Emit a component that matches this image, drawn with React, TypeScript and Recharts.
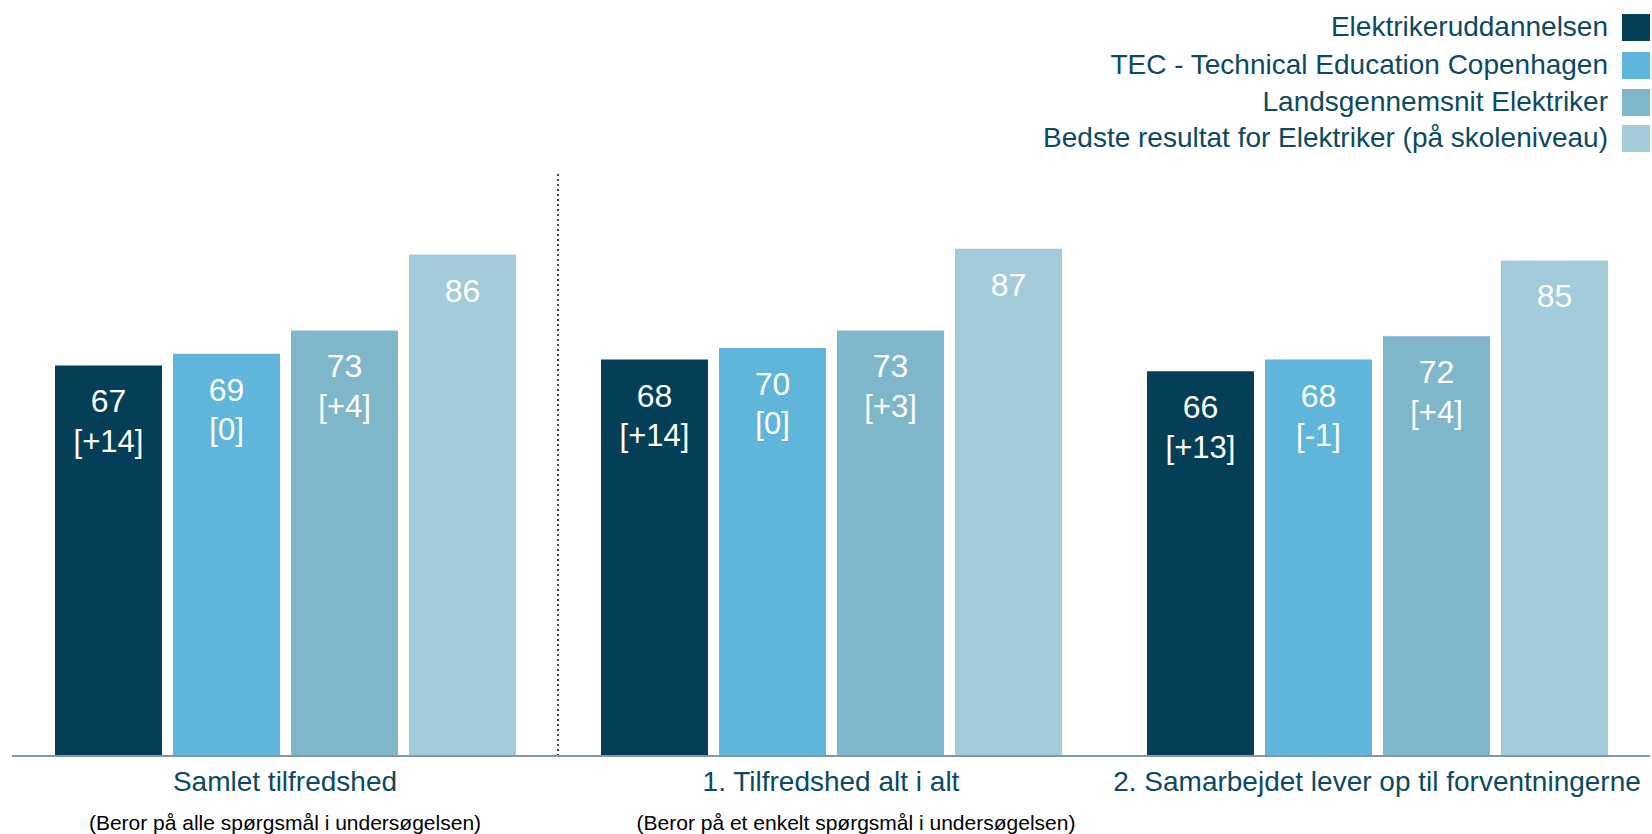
import { BarChart, Bar, XAxis, YAxis, LabelList, ReferenceLine } from "recharts";

const categories = [
  "Samlet tilfredshed",
  "1. Tilfredshed alt i alt",
  "2. Samarbejdet lever op til forventningerne",
];
const subtitles = [
  "(Beror på alle spørgsmål i undersøgelsen)",
  "(Beror på et enkelt spørgsmål i undersøgelsen)",
  "",
];

const seriesNames = [
  "Elektrikeruddannelsen",
  "TEC - Technical Education Copenhagen",
  "Landsgennemsnit Elektriker",
  "Bedste resultat for Elektriker (på skoleniveau)",
];

const elektriker = [67, 68, 66];
const elektrikerDiff = ["+14", "+14", "+13"];
const tec = [69, 70, 68];
const tecDiff = ["0", "0", "-1"];
const lands = [73, 73, 72];
const landsDiff = ["+4", "+3", "+4"];
const best = [86, 87, 85];

const COLORS = ["#043f57", "#5fb5da", "#7fb6ca", "#a3cbda"];
const TEXT = "#0b4a60";
const FONT = "'Liberation Sans', Arial, sans-serif";

const data = categories.map((name, i) => ({
  name,
  elektriker: elektriker[i],
  tec: tec[i],
  lands: lands[i],
  best: best[i],
}));

const makeLabel = (diffs: string[] | null) => (props: any) => {
  const { x, y, width, value, index } = props;
  const cx = x + width / 2;
  return (
    <g>
      <text x={cx} y={y + 36} fill="#fff" fontSize={32} fontFamily={FONT} textAnchor="middle" dominantBaseline="central">
        {value}
      </text>
      {diffs && (
        <text x={cx} y={y + 76} fill="#fff" fontSize={31} fontFamily={FONT} textAnchor="middle" dominantBaseline="central">
          [{diffs[index]}]
        </text>
      )}
    </g>
  );
};

const SUB_DX = [0, 25, 0];

const CategoryTick = (props: any) => {
  const { x, payload } = props;
  const i = payload.index;
  return (
    <g>
      <text x={x} y={781} fill={TEXT} fontSize={28} fontFamily={FONT} textAnchor="middle" dominantBaseline="central">
        {payload.value}
      </text>
      {subtitles[i] && (
        <text x={x + SUB_DX[i]} y={822} fill="#000" fontSize={21} fontFamily={FONT} textAnchor="middle" dominantBaseline="central">
          {subtitles[i]}
        </text>
      )}
    </g>
  );
};

const legendRows = [27, 65, 102, 138];

export default function App() {
  return (
    <div style={{ position: "absolute", left: 0, top: 0, width: 1652, height: 834, background: "#fff" }}>
      <BarChart
        width={1652}
        height={834}
        data={data}
        margin={{ top: 173, right: 2, bottom: 48, left: 12 }}
        barCategoryGap={43}
        barGap={11}
      >
        <YAxis hide domain={[0, 100]} />
        <XAxis
          dataKey="name"
          axisLine={{ stroke: "#8097a9", strokeWidth: 2 }}
          tickLine={false}
          tick={<CategoryTick />}
          interval={0}
        />
        <ReferenceLine x={categories[1]} position="start" stroke="#000" strokeDasharray="2 3" strokeWidth={1.5} />
        <Bar dataKey="elektriker" fill={COLORS[0]} isAnimationActive={false}>
          <LabelList dataKey="elektriker" content={makeLabel(elektrikerDiff)} />
        </Bar>
        <Bar dataKey="tec" fill={COLORS[1]} isAnimationActive={false}>
          <LabelList dataKey="tec" content={makeLabel(tecDiff)} />
        </Bar>
        <Bar dataKey="lands" fill={COLORS[2]} isAnimationActive={false}>
          <LabelList dataKey="lands" content={makeLabel(landsDiff)} />
        </Bar>
        <Bar dataKey="best" fill={COLORS[3]} isAnimationActive={false}>
          <LabelList dataKey="best" content={makeLabel(null)} />
        </Bar>
      </BarChart>
      {seriesNames.map((s, i) => (
        <div
          key={s}
          style={{
            position: "absolute",
            right: 2,
            top: legendRows[i] - 14,
            height: 28,
            display: "flex",
            alignItems: "center",
            fontFamily: FONT,
            fontSize: 28,
            color: TEXT,
            whiteSpace: "nowrap",
          }}
        >
          <span>{s}</span>
          <span style={{ display: "inline-block", width: 28, height: 27, background: COLORS[i], marginLeft: 14 }} />
        </div>
      ))}
    </div>
  );
}
